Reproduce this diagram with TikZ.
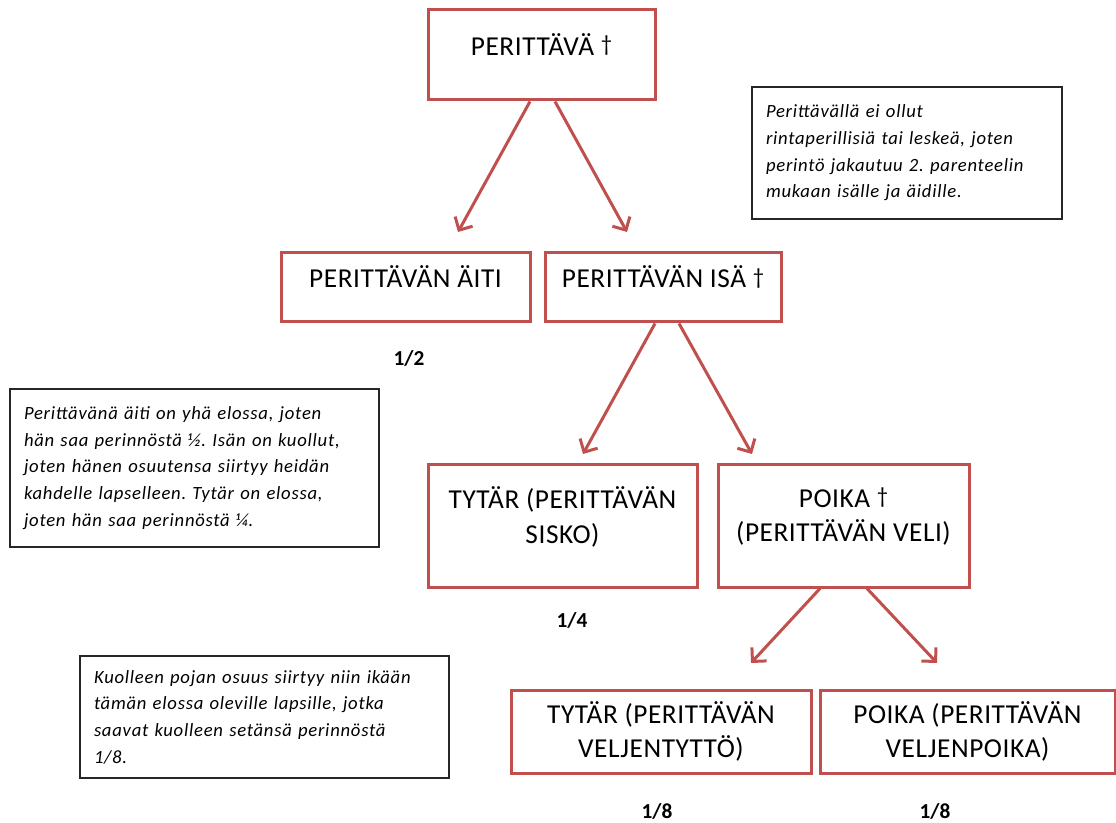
\documentclass[tikz,border=0pt]{standalone}
\usepackage{fontspec}
\setmainfont{Carlito}
\newfontfamily\heirfont[LetterSpace=2]{Carlito}
\newfontfamily\notefont[LetterSpace=4]{Carlito}
\usetikzlibrary{arrows.meta}
\usetikzlibrary{calc}
\definecolor{heirred}{HTML}{C0504D}
\newcommand{\deceasedmark}{\raisebox{2.5pt}{\fontsize{17}{17}\selectfont †}}
\tikzstyle{heir}=[
  draw=heirred,
  line width=2.25pt,
  align=center,
  font=\heirfont\fontsize{20.5}{26}\selectfont
]
\tikzstyle{lift}=[
  text depth=16pt
]
\tikzstyle{note}=[
  draw=black!85,
  line width=1.1pt,
  align=left,
  inner xsep=10.5pt,
  font=\notefont\fontsize{14}{20}\selectfont\itshape\frenchspacing
]
\tikzstyle{share}=[
  inner sep=1pt,
  font=\fontsize{16}{18}\selectfont\bfseries
]
\tikzstyle{op}=[
  -{Straight Barb[length=7.5pt,width=15pt]},
  draw=heirred,
  line width=2.25pt
]

\begin{document}
\begin{tikzpicture}[x=0.75pt, y=-0.75pt]
  \useasboundingbox (0,0) rectangle (1116,823);

  \node[heir, lift, minimum width=170.25pt, minimum height=67.5pt ] (deceased) at (541.5,  55)   {PERITTÄVÄ \deceasedmark};
  \node[heir, lift, minimum width=186.75pt, minimum height=51.75pt] (mother)   at (405.5, 287.5) {PERITTÄVÄN ÄITI};
  \node[heir, lift, minimum width=177pt,    minimum height=51.75pt] (father)   at (663,   287.5) {PERITTÄVÄN ISÄ \deceasedmark};
  \node[heir, lift, minimum width=201.75pt, minimum height=92.25pt] (sister)   at (562.5, 525.5) {TYTÄR (PERITTÄVÄN\\SISKO)};
  \node[heir, lift, minimum width=188.25pt, minimum height=92.25pt] (brother)  at (843.5, 525.5) {POIKA \deceasedmark\\(PERITTÄVÄN VELI)};
  \node[heir,       minimum width=225pt,    minimum height=62.25pt] (niece)    at (661,   731.5) {TYTÄR (PERITTÄVÄN\\VELJENTYTTÖ)};
  \node[heir,       minimum width=221.25pt, minimum height=62.25pt] (nephew)   at (967.5, 731.5) {POIKA (PERITTÄVÄN\\VELJENPOIKA)};

  \node[share] (sharemother) at (409, 358) {1/2};
  \node[share] (sharesister) at (572, 620) {1/4};
  \node[share] (shareniece)  at (657, 811) {1/8};
  \node[share] (sharenephew) at (935, 811) {1/8};

  \node[note, text width=211.5pt, minimum width=232.5pt, minimum height=99pt] (noteparents) at (907, 153)
    {Perittävällä ei ollut\\rintaperillisiä tai leskeä, joten\\perintö jakautuu 2. parenteelin\\mukaan isälle ja äidille.};
  \node[note, text width=255.75pt, minimum width=276.75pt, minimum height=118.5pt] (notesister) at (194.5, 468)
    {Perittävänä äiti on yhä elossa, joten\\hän saa perinnöstä ½. Isän on kuollut,\\joten hänen osuutensa siirtyy heidän\\kahdelle lapselleen. Tytär on elossa,\\joten hän saa perinnöstä ¼.};
  \node[note, text width=255.75pt, minimum width=276.75pt, minimum height=91.5pt] (notechildren) at (264.5, 717)
    {Kuolleen pojan osuus siirtyy niin ikään\\tämän elossa oleville lapsille, jotka\\saavat kuolleen setänsä perinnöstä\\1/8.};

  \coordinate (tipmother)  at (458, 232);
  \coordinate (tipfather)  at (627, 232);
  \coordinate (tipsister)  at (583, 454);
  \coordinate (tipbrother) at (752, 454);
  \coordinate (tipniece)   at (751, 663);
  \coordinate (tipnephew)  at (937, 663);

  \draw[op] ($(deceased.south) + (-11.5, 0)$) -- (tipmother);
  \draw[op] ($(deceased.south) + (+13.5, 0)$) -- (tipfather);
  \draw[op] ($(father.south)   + (-8, 0)$)    -- (tipsister);
  \draw[op] ($(father.south)   + (+16, 0)$)   -- (tipbrother);
  \draw[op] ($(brother.south)  + (-23.5, 0)$) -- (tipniece);
  \draw[op] ($(brother.south)  + (+23.5, 0)$) -- (tipnephew);
\end{tikzpicture}
\end{document}
